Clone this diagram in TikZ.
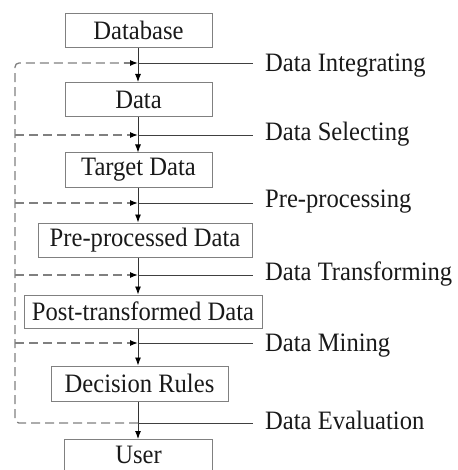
\documentclass[tikz,border=0pt]{standalone}
\usepackage{fontspec}
\setmainfont{Liberation Serif}
\usetikzlibrary{arrows.meta}
\newcommand\talltxt[1]{\scalebox{1}[1.08]{#1}}
\begin{document}
\begin{tikzpicture}[x=1pt,y=-1pt,
  stagebox/.style={draw=black!50,line width=1pt,inner sep=0pt,font=\fontsize{24.6}{27}\selectfont,text=black!90},
  flow/.style={draw=black!80,line width=0.9pt,-{Latex[length=8pt,width=6pt,color=black]}},
  tap/.style={draw=black!75,line width=0.9pt},
  fb/.style={draw=black!50,line width=1.3pt,dash pattern=on 9pt off 5pt},
  fbarrow/.style={fb,-{Latex[length=8pt,width=6pt,color=black]}},
  lbl/.style={anchor=base west,inner sep=0pt,font=\fontsize{24.6}{27}\selectfont,text=black!90}]
\useasboundingbox (0,0) rectangle (457,470);
% boxes
\node[stagebox,minimum width=147pt,minimum height=34pt] (db) at (138.5,30.5) {\talltxt{Database}};
\node[stagebox,minimum width=147pt,minimum height=34pt] (d) at (138.5,99.5) {\talltxt{Data}};
\node[stagebox,minimum width=147pt,minimum height=34pt] (td) at (138.5,170) {\talltxt{Target Data}};
\node[stagebox,minimum width=214pt,minimum height=34pt] (pd) at (145,240) {\talltxt{Pre-processed Data}};
\node[stagebox,minimum width=238pt,minimum height=33pt] (ptd) at (143,311.5) {\talltxt{Post-transformed Data}};
\node[stagebox,minimum width=177pt,minimum height=35pt] (dr) at (139.5,383.5) {\talltxt{Decision Rules}};
\node[stagebox,minimum width=148pt,minimum height=60pt,anchor=north] (u) at (138.5,439) {};
\node[font=\fontsize{24.6}{27}\selectfont,text=black!90,anchor=base,inner sep=0pt] (ut) at (138.5,463) {\talltxt{User}};
% junctions
\foreach \i/\y in {1/63,2/135,3/203,4/275,5/343,6/423}{
  \coordinate (j\i) at (138,\y);
  \coordinate (e\i) at (253,\y);
  \coordinate (l\i) at (15,\y);
}
% main flow
\draw[flow] (db.south -| j1) -- (d.north -| j1);
\draw[flow] (d.south -| j1) -- (td.north -| j1);
\draw[flow] (td.south -| j1) -- (pd.north -| j1);
\draw[flow] (pd.south -| j1) -- (ptd.north -| j1);
\draw[flow] (ptd.south -| j1) -- (dr.north -| j1);
\draw[flow] (dr.south -| j1) -- (u.north -| j1);
% taps to labels
\foreach \i in {1,...,6}{\draw[tap] (j\i) -- (e\i);}
% feedback
\draw[fb,rounded corners=4pt] (j6) -- (l6) -- (l1) -- (j1);
\draw[fbarrow] ([xshift=-14pt]j1) -- (j1);
\foreach \i in {2,...,5}{\draw[fbarrow] (l\i) -- (j\i);}
% labels
\node[lbl] (t1) at (265,72) {\talltxt{Data Integrating}};
\node[lbl] (t2) at (265,141) {\talltxt{Data Selecting}};
\node[lbl] (t3) at (265,207) {\talltxt{Pre-processing}};
\node[lbl] (t4) at (265,280) {\talltxt{Data Transforming}};
\node[lbl] (t5) at (265,351) {\talltxt{Data Mining}};
\node[lbl] (t6) at (265,429) {\talltxt{Data Evaluation}};
\end{tikzpicture}
\end{document}
